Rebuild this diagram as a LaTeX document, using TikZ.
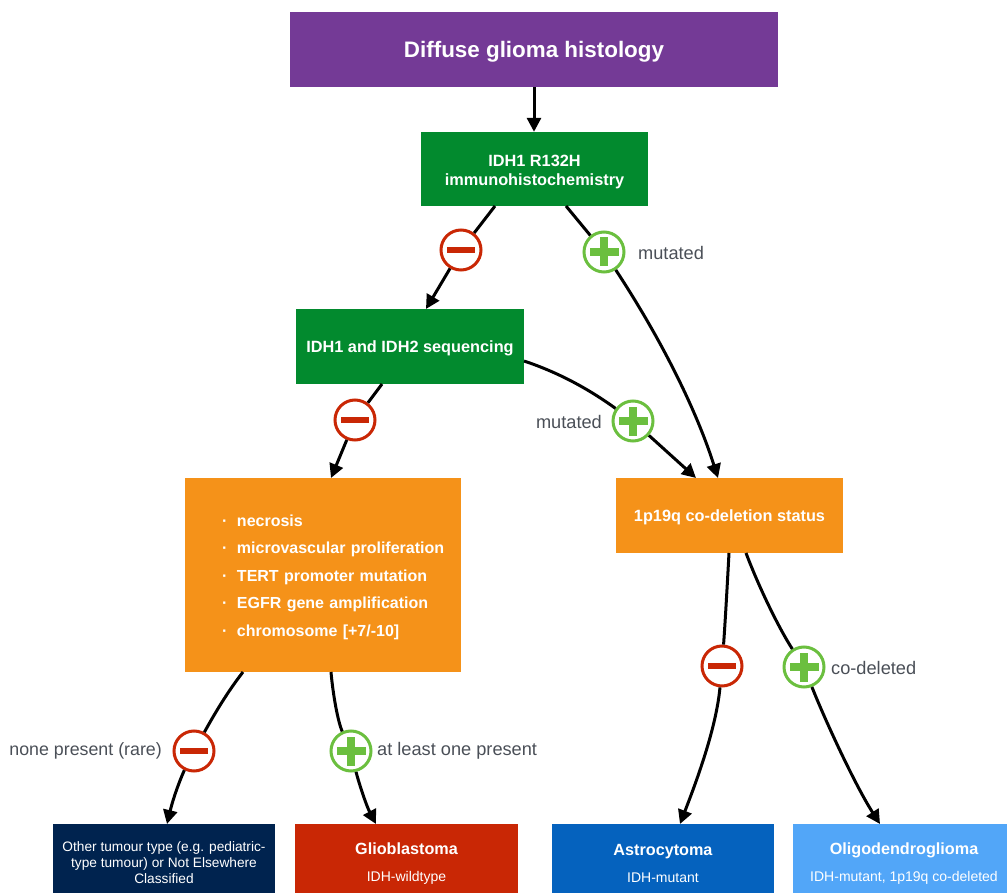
\documentclass[tikz,border=0pt]{standalone}
\usepackage{fontspec}
\setmainfont{Liberation Sans}
\usetikzlibrary{arrows.meta}
\definecolor{cpurple}{HTML}{743A96}
\definecolor{cgreen}{HTML}{028A2E}
\definecolor{corange}{HTML}{F59219}
\definecolor{cnavy}{HTML}{00234F}
\definecolor{cred}{HTML}{C92705}
\definecolor{cblue}{HTML}{0562BE}
\definecolor{clight}{HTML}{52A6F8}
\definecolor{cplus}{HTML}{6BBF3F}
\definecolor{clabel}{HTML}{4A4F57}
\newcommand{\bul}[1]{\hspace*{37pt}\makebox[15pt][l]{·}#1}
\newcommand{\bigt}[1]{{\fontsize{16.2}{18}\bfseries\selectfont #1}}
\newcommand{\smallt}[1]{{\fontsize{14}{16}\selectfont #1}}
\newcommand{\topfix}[1]{\rule{0pt}{#1}}
\tikzset{
  x=1pt,y=-1pt,
  boxn/.style={rectangle,inner sep=0pt,text=white,align=center,minimum height=75pt,minimum width=228pt},
  boxb/.style={boxn,font=\fontsize{16.3}{19}\bfseries\selectfont},
  leaf/.style={boxn,minimum height=69pt,minimum width=223pt,font=\fontsize{13.7}{16}\selectfont},
  conn/.style={draw=black,line width=3pt},
  arr/.style={conn,-{Triangle[length=14pt,width=14pt]}},
  minusc/.style={circle,draw=cred,fill=white,line width=3pt,minimum size=40pt,inner sep=0pt,
    path picture={\fill[cred] (path picture bounding box.center) +(-14,-3) rectangle +(14,3);}},
  plusc/.style={circle,draw=cplus,fill=white,line width=3pt,minimum size=40pt,inner sep=0pt,
    path picture={\fill[cplus] (path picture bounding box.center) +(-14.5,-4) rectangle +(14.5,4);
      \fill[cplus] (path picture bounding box.center) +(-4,-14.5) rectangle +(4,14.5);}},
  lab/.style={text=clabel,inner sep=0pt,font=\fontsize{18.2}{21}\selectfont},
}
\begin{document}
\begin{tikzpicture}
\useasboundingbox (0,0) rectangle (1007,893);
% boxes
\node[boxn,fill=cpurple,minimum width=488pt,font=\fontsize{22.4}{26}\bfseries\selectfont,text depth=0pt] (title) at (534,49.5) {Diffuse glioma histology};
\node[boxb,fill=cgreen,minimum width=227pt,minimum height=74pt] (ihc) at (534.5,169) {\topfix{17pt}IDH1 R132H\\immunohistochemistry};
\node[boxb,fill=cgreen,text depth=0pt] (seq) at (410,346.5) {IDH1 and IDH2 sequencing};
\node[boxn,fill=corange,text width=276pt,minimum height=194pt,align=left,font=\fontsize{16}{27.6}\bfseries\selectfont] (feat) at (323,575) {\topfix{16pt}\bul{necrosis}\\\bul{microvascular proliferation}\\\bul{TERT promoter mutation}\\\bul{EGFR gene amplification}\\\bul{chromosome [+7/-10]}};
\node[boxb,fill=corange,minimum width=227pt,text depth=0pt] (codel) at (729.5,515.5) {1p19q co-deletion status};
\node[leaf,fill=cnavy,minimum width=222pt] (other) at (164,858.5) {\topfix{18pt}Other tumour type (e.g. pediatric-\\type tumour) or Not Elsewhere\\Classified};
\node[leaf,fill=cred] (gbm) at (406.5,858.5) {\topfix{21pt}\bigt{Glioblastoma}\\[11pt]\smallt{IDH-wildtype}};
\node[leaf,fill=cblue,minimum width=222pt] (astro) at (663,858.5) {\topfix{21pt}\bigt{Astrocytoma}\\[11pt]\smallt{IDH-mutant}};
\node[leaf,fill=clight,minimum width=222pt] (oligo) at (904,858.5) {\topfix{21pt}\bigt{Oligodendroglioma}\\[11pt]\smallt{IDH-mutant, 1p19q co-deleted}};
% signs
\node[minusc] (m1) at (461,250) {};
\node[plusc] (p1) at (604,252) {};
\node[plusc] (p2) at (633,421) {};
\node[minusc] (m2) at (355,420) {};
\node[minusc] (m3) at (194,751) {};
\node[plusc] (p3) at (351,751) {};
\node[minusc] (m4) at (722,666) {};
\node[plusc] (p4) at (804,667) {};
% labels
\node[lab,anchor=west] (l1) at (638,253) {mutated};
\node[lab,anchor=east] (l2) at (602,422) {mutated};
\node[lab,anchor=east,font=\fontsize{17.8}{21}\selectfont] (l3) at (162,751) {none present (rare)};
\node[lab,anchor=west] (l4) at (377,751) {at least one present};
\node[lab,anchor=west] (l5) at (831,668) {co-deleted};
% connector ends on box edges
\coordinate (ihcA) at (495,206);
\coordinate (ihcB) at (566,206);
\coordinate (seqIn) at (426,309);
\coordinate (seqOut) at (524,361);
\coordinate (seqB) at (382,384);
\coordinate (featIn) at (331,478);
\coordinate (codelA) at (696,478);
\coordinate (codelB) at (718,478);
\coordinate (featA) at (243,672);
\coordinate (featB) at (331,672);
\coordinate (otherIn) at (167,824);
\coordinate (gbmIn) at (376,824);
\coordinate (codelC) at (729,553);
\coordinate (codelD) at (746,553);
\coordinate (astroIn) at (680,824);
\coordinate (oligoIn) at (880,824);
% connectors
\draw[arr] (title.south) -- (title.south |- ihc.north);
\draw[conn] (ihcA) -- (m1);
\draw[arr] (m1) -- (seqIn);
\draw[conn] (ihcB) -- (p1);
\draw[arr] (p1) .. controls (665,345) and (698,415) .. (codelB);
\draw[conn] (seqOut) .. controls (560,373) and (590,390) .. (p2);
\draw[arr] (p2) -- (codelA);
\draw[conn] (seqB) -- (m2);
\draw[arr] (m2) -- (featIn);
\draw[conn] (featA) .. controls (225,695) and (210,722) .. (m3);
\draw[arr] (m3) .. controls (182,775) and (174,795) .. (otherIn);
\draw[conn] (featB) .. controls (333,695) and (338,722) .. (p3);
\draw[arr] (p3) .. controls (358,780) and (366,805) .. (gbmIn);
\draw[conn] (codelC) .. controls (727,590) and (725,625) .. (m4);
\draw[arr] (m4) .. controls (716,730) and (695,785) .. (astroIn);
\draw[conn] (codelD) .. controls (760,590) and (780,630) .. (p4);
\draw[arr] (p4) .. controls (825,720) and (855,785) .. (oligoIn);
\end{tikzpicture}
\end{document}
